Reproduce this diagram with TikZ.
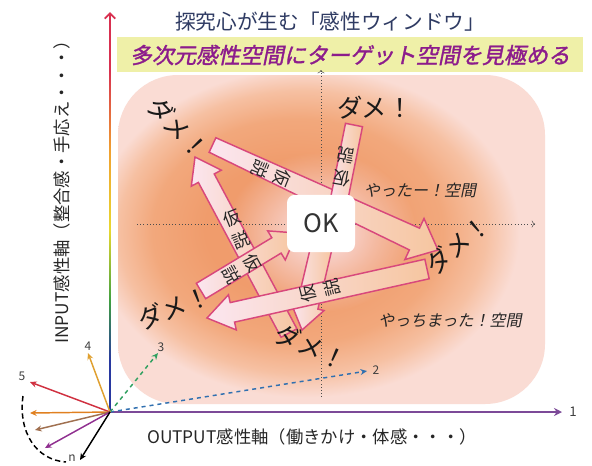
\documentclass[tikz,border=0pt]{standalone}
\usepackage{fontspec}
\setmainfont{Noto Sans CJK JP}
\newfontfamily\jpsl{Noto Sans CJK JP}[FakeSlant=0.2]
\newfontfamily\jpbi{Noto Sans CJK JP}[FakeSlant=0.2,FakeBold=1.5]
\usetikzlibrary{arrows.meta,calc,fadings}

\definecolor{titlec}{HTML}{2F3B63}
\definecolor{subc}{HTML}{8C1C8C}
\definecolor{bandy}{HTML}{EFF0A8}
\definecolor{bord}{HTML}{D8487C}
\definecolor{pfill}{HTML}{FBE6F0}
\definecolor{ofill}{HTML}{F6C6A0}
\definecolor{o1}{HTML}{F09C6C}
\definecolor{o2}{HTML}{F2A87C}
\definecolor{o3}{HTML}{F6C0A2}
\definecolor{o4}{HTML}{FADCD4}
\definecolor{glowc}{HTML}{FBE4EC}
\definecolor{axblue}{HTML}{2838A0}
\definecolor{axgreen}{HTML}{40A040}
\definecolor{axyellow}{HTML}{E8D830}
\definecolor{axorange}{HTML}{F0A030}
\definecolor{axred}{HTML}{D83050}
\definecolor{axpurple}{HTML}{7C4A98}
\definecolor{c2}{HTML}{3070B0}
\definecolor{c3}{HTML}{30A060}
\definecolor{c4}{HTML}{E0A030}
\definecolor{c5}{HTML}{D03040}
\definecolor{c6}{HTML}{E08020}
\definecolor{c7}{HTML}{A07050}
\definecolor{c8}{HTML}{903090}

\pgfdeclareradialshading{bgshade}{\pgfpoint{-6bp}{2bp}}{color(0bp)=(o1); color(10bp)=(o1); color(17bp)=(o2); color(21.5bp)=(o3); color(25bp)=(o4); color(50bp)=(o4)}
\tikzfading[name=glowfade, inner color=transparent!0, outer color=transparent!100]

\tikzset{
  bandarrow/.style={draw=bord, line width=1.1pt, line join=miter, left color=pfill, right color=ofill},
  kasetsu/.style={font=\fontsize{13}{18}\selectfont, align=center, inner sep=0pt, text=black!85},
  dame/.style={font=\fontsize{19}{20}\selectfont, inner sep=0pt, text=black!90},
  zone/.style={font=\jpsl\fontsize{12}{14}\selectfont, text=black!85, inner sep=0pt},
  num/.style={font=\fontsize{9}{10}\selectfont, text=black!75, inner sep=1pt},
  ray/.style={line width=1.1pt, -{Stealth[length=5pt,width=4.5pt]}},
  guide/.style={gray!60!black, line width=0.4pt, dotted, -{To[length=2.5pt]}},
}

% name, start, end, start half width, shaft half width at head, head half width, head length
\newcommand{\blockarr}[7]{%
  \coordinate (#1-s) at #2;
  \coordinate (#1-e) at #3;
  \coordinate (#1-h) at ($(#1-e)!#7!(#1-s)$);
  \path[bandarrow] ($(#1-s)!#4!90:(#1-e)$) -- ($(#1-h)!#5!-90:(#1-s)$) -- ($(#1-h)!#6!-90:(#1-s)$) -- (#1-e) -- ($(#1-h)!#6!90:(#1-s)$) -- ($(#1-h)!#5!90:(#1-s)$) -- ($(#1-s)!#4!-90:(#1-e)$) -- cycle;
}
\newcommand{\blockband}[4]{%
  \coordinate (#1-s) at #2;
  \coordinate (#1-e) at #3;
  \path[bandarrow] ($(#1-s)!#4!90:(#1-e)$) -- ($(#1-e)!#4!-90:(#1-s)$) -- ($(#1-e)!#4!90:(#1-s)$) -- ($(#1-s)!#4!-90:(#1-e)$) -- cycle;
}

\begin{document}
\begin{tikzpicture}[x=0.75pt,y=0.75pt]
\useasboundingbox (0,0) rectangle (592,-465);
\fill[white] (0,0) rectangle (592,-465);

% title and subtitle
\node[font=\fontsize{15.5}{17}\selectfont, text=titlec] (title) at (330,-22) {探究心が生む「感性ウィンドウ」};
\fill[bandy] (117,-37) rectangle (583,-72);
\node[font=\jpbi\fontsize{16.5}{18}\selectfont, text=subc] (subtitle) at (350,-55) {多次元感性空間にターゲット空間を見極める};

% background field
\shade[shading=bgshade, rounded corners=45] (118,-75) rectangle (545,-404);
\fill[glowc, path fading=glowfade] (321,-232) ellipse [x radius=95, y radius=80];

% guide axes
\coordinate (gv0) at (321,-397); \coordinate (gv1) at (321,-70);
\coordinate (gh0) at (137,-224); \coordinate (gh1) at (535,-224);
\draw[guide] (gv0) -- (gv1);
\draw[guide] (gh0) -- (gh1);

% hypothesis arrows
\blockarr{D}{(289,-333)}{(195,-157)}{6.75pt}{6.75pt}{12.75pt}{18pt}
\blockarr{F}{(212.5,-145)}{(438,-250)}{6pt}{9pt}{17pt}{19.5pt}
\blockband{E}{(337,-210)}{(354,-125)}{6.5pt}
\blockarr{A}{(201,-291)}{(297,-233)}{6.75pt}{6.75pt}{12.75pt}{18pt}
\blockarr{C}{(322,-245)}{(302,-330)}{8pt}{8pt}{12.75pt}{18pt}
\blockarr{B}{(427,-269)}{(207,-318)}{7.5pt}{7.5pt}{13.5pt}{19.5pt}

\node[kasetsu, rotate=-112] (tF) at (271,-173) {仮\\説};
\node[kasetsu, rotate=22] (tD) at (237,-229) {仮\\説};
\node[kasetsu, rotate=170] (tE) at (344,-167) {仮\\説};
\node[kasetsu, rotate=-61] (tA) at (242,-269) {仮\\説};
\node[kasetsu, rotate=104] (tB) at (320,-291) {仮\\説};

% OK box
\node[fill=white, rounded corners=6pt, minimum width=51pt, minimum height=43pt, inner sep=0pt, font=\fontsize{19}{20}\selectfont, text=black!80] (ok) at (321,-223.5) {OK};

% failure labels
\node[dame, rotate=-47] (d1) at (178,-128) {ダメ！};
\node[dame] (d2) at (375,-108) {ダメ！};
\node[dame, rotate=40] (d3) at (458,-245) {ダメ！};
\node[dame, rotate=21] (d4) at (174,-308) {ダメ！};
\node[dame, rotate=-24] (d5) at (311,-347) {ダメ！};

\node[zone] (z1) at (420,-190) {やったー！空間};
\node[zone] (z2) at (450,-320) {やっちまった！空間};

% main axes
\coordinate (O) at (110,-412);
\coordinate (vtop) at (110,-12);
\coordinate (h1) at (562,-412);
\shade[bottom color=axblue, top color=axblue] (109.1,-412) rectangle (110.9,-360);
\shade[bottom color=axblue, top color=axgreen] (109.1,-360.5) rectangle (110.9,-300);
\shade[bottom color=axgreen, top color=axyellow] (109.1,-300.5) rectangle (110.9,-230);
\shade[bottom color=axyellow, top color=axorange] (109.1,-230.5) rectangle (110.9,-150);
\shade[bottom color=axorange, top color=axred] (109.1,-150.5) rectangle (110.9,-70);
\shade[bottom color=axred, top color=axred] (109.1,-70.5) rectangle (110.9,-22);
\draw[axred, line width=1.4pt, -{Straight Barb[length=4pt,width=8pt]}] (110,-24) -- (vtop);
\draw[axpurple, line width=1.5pt, -{Stealth[length=6pt,width=6pt]}] (O) -- (h1);
\node[num, font=\fontsize{10}{11}\selectfont] (l1) at (573,-412) {1};

% other dimensions
\coordinate (t2) at (367,-371);
\coordinate (t3) at (158,-353);
\coordinate (t4) at (88,-353);
\coordinate (t5) at (30,-382);
\coordinate (t6) at (30,-413);
\coordinate (t7) at (35,-430);
\coordinate (t8) at (45,-448);
\coordinate (tn) at (80,-460);
\draw[ray, c2, dashed] (O) -- (t2);
\draw[ray, c3, dashed] (O) -- (t3);
\draw[ray, c4] (O) -- (t4);
\draw[ray, c5] (O) -- (t5);
\draw[ray, c6] (O) -- (t6);
\draw[ray, c7] (O) -- (t7);
\draw[ray, c8] (O) -- (t8);
\draw[ray, black] (O) -- (tn);
\coordinate (a0) at (23,-396);
\coordinate (a1) at (66,-462);
\draw[black, line width=1.1pt, dash pattern=on 4pt off 2.5pt] (a0) .. controls (18,-432) and (36,-460) .. (a1);
\node[num] (l2) at (376,-370) {2};
\node[num] (l3) at (161,-347) {3};
\node[num] (l4) at (88,-346) {4};
\node[num] (l5) at (22,-376) {5};
\node[num] (ln) at (72,-458) {n};

% axis labels
\node[font=\fontsize{13}{14}\selectfont, text=black!85] (xlab) at (312,-437) {OUTPUT感性軸（働きかけ・体感・・・）};
\node[font=\fontsize{13}{14}\selectfont, text=black!85, rotate=90] (ylab) at (62,-188) {INPUT感性軸（整合感・手応え・・・）};
\end{tikzpicture}
\end{document}
